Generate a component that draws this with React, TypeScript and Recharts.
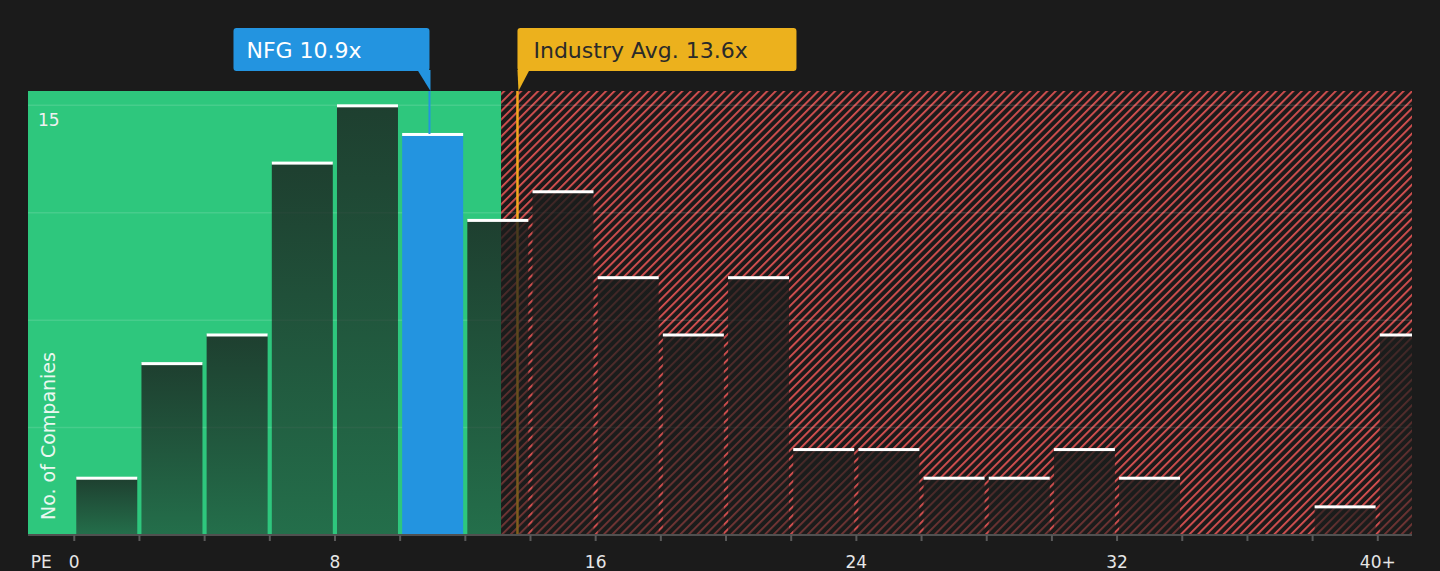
import React from 'react';
import { ComposedChart, Bar, XAxis, YAxis, ReferenceArea, ReferenceLine } from 'recharts';

// PE histogram: bin centres (2x wide bins, last one is 40+) and company counts
const binCenters = [1, 3, 5, 7, 9, 11, 13, 15, 17, 19, 21, 23, 25, 27, 29, 31, 33, 35, 37, 39, 41];
const companyCounts = [2, 6, 7, 13, 15, 14, 11, 12, 9, 7, 9, 3, 3, 2, 2, 3, 2, 0, 0, 1, 7];

const xTicks = [0, 2, 4, 6, 8, 10, 12, 14, 16, 18, 20, 22, 24, 26, 28, 30, 32, 34, 36, 38, 40];
const xTickLabels: Record<number, string> = { 0: '0', 8: '8', 16: '16', 24: '24', 32: '32', 40: '40+' };
const yGridValues = [0, 3.75, 7.5, 11.25, 15];

const nfgPE = 10.9;
const industryPE = 13.6;
const fairLimit = 13.1;
const xMin = -1.42;
const xMax = 41.05;
const yMax = 15.5;

const data = binCenters.map((pe, i) => ({ pe, count: companyCounts[i] }));

const FONT = 'DejaVu Sans';

const BarShape = (props: any) => {
  const { x, y, width, height, payload } = props;
  if (!payload.count) return null;
  const isNfg = nfgPE >= payload.pe - 1 && nfgPE < payload.pe + 1;
  return (
    <g>
      <rect x={x} y={y} width={width} height={height} fill={isNfg ? '#2394e0' : 'url(#barFade)'} />
      <rect x={x} y={y - 1} width={width} height={3} fill="#ffffff" />
    </g>
  );
};

const XTick = ({ x, payload }: any) => {
  const label = xTickLabels[payload.value];
  if (label === undefined) return null;
  return (
    <g fontFamily={FONT} fontSize={17} fill="#e6e6e6">
      {payload.value === 0 && (
        <text x={x - 33} y={568} textAnchor="middle">PE</text>
      )}
      <text x={x} y={568} textAnchor="middle">{label}</text>
    </g>
  );
};

// labels that sit on the horizontal grid lines: "15" at the top, axis title at 0
const GridLabel = (value: number) => (props: any) => {
  const { x, y } = props.viewBox;
  if (value === 15) {
    return (
      <text x={x + 10} y={y + 15} fontFamily={FONT} fontSize={17} fill="#f0f0f0" dominantBaseline="central">
        15
      </text>
    );
  }
  if (value === 0) {
    return (
      <text
        transform={`translate(${x + 20}, ${y - 15}) rotate(-90)`}
        fontFamily={FONT}
        fontSize={19}
        fill="#eaf7f0"
        dominantBaseline="central"
      >
        No. of Companies
      </text>
    );
  }
  return null;
};

const NfgCallout = ({ viewBox }: any) => {
  const { x, y } = viewBox;
  const w = 196;
  const h = 43;
  const top = y - 63;
  return (
    <g>
      <rect x={x - w} y={top} width={w} height={h} rx={3} fill="#2394e0" />
      <path d={`M${x - 12},${top + h - 1} L${x + 1},${top + h - 1} L${x + 1},${y} Z`} fill="#2394e0" />
      <text x={x - w + 13} y={top + h / 2 + 1} fontFamily={FONT} fontSize={22} fill="#ffffff" dominantBaseline="central">
        NFG 10.9x
      </text>
    </g>
  );
};

const IndustryCallout = ({ viewBox }: any) => {
  const { x, y } = viewBox;
  const w = 279;
  const h = 43;
  const top = y - 63;
  return (
    <g>
      <rect x={x} y={top} width={w} height={h} rx={3} fill="#ecb11d" />
      <path d={`M${x},${top + h - 1} L${x + 12},${top + h - 1} L${x + 1},${y} Z`} fill="#ecb11d" />
      <text x={x + 16} y={top + h / 2 + 1} fontFamily={FONT} fontSize={22} fill="#2a2a2a" dominantBaseline="central">
        Industry Avg. 13.6x
      </text>
    </g>
  );
};

const App: React.FC = () => {
  return (
    <div style={{ position: 'absolute', left: 0, top: 0, width: 1440, height: 571, background: '#1b1b1b' }}>
      <ComposedChart width={1440} height={571} data={data} margin={{ top: 91, right: 28, bottom: 0, left: 28 }}>
        <defs>
          <linearGradient id="barFade" x1="0" y1="0" x2="0" y2="1">
            <stop offset="0%" stopColor="#1a1d1c" stopOpacity={0.8} />
            <stop offset="100%" stopColor="#1a1d1c" stopOpacity={0.52} />
          </linearGradient>
          <pattern id="hatch" patternUnits="userSpaceOnUse" width={6} height={6} patternTransform="rotate(45)">
            <rect width={6} height={6} fill="#1c1a1a" />
            <rect x={0} y={0} width={1.8} height={6} fill="#dc5252" />
          </pattern>
        </defs>
        <XAxis
          dataKey="pe"
          type="number"
          domain={[xMin, xMax]}
          allowDataOverflow
          ticks={xTicks}
          interval={0}
          height={36}
          tickSize={6}
          axisLine={{ stroke: '#505050', strokeWidth: 2 }}
          tickLine={{ stroke: '#5a5a5a', strokeWidth: 2 }}
          tick={<XTick />}
        />
        <YAxis type="number" domain={[0, yMax]} width={0} axisLine={false} tickLine={false} tick={false} />
        <ReferenceArea x1={xMin} x2={fairLimit} y1={0} y2={yMax} fill="#2ec77d" fillOpacity={1} stroke="none" zIndex={100} />
        <ReferenceArea x1={fairLimit} x2={xMax} y1={0} y2={yMax} fill="url(#hatch)" fillOpacity={1} stroke="none" zIndex={100} />
        {yGridValues.map((v) => (
          <ReferenceLine
            key={v}
            y={v}
            stroke={v === 0 ? 'none' : 'rgba(255,255,255,0.12)'}
            strokeWidth={1.5}
            zIndex={150}
            label={GridLabel(v)}
          />
        ))}
        <ReferenceLine x={industryPE} stroke="#f2a81d" strokeWidth={2.5} zIndex={200} label={<IndustryCallout />} />
        <Bar dataKey="count" barSize={61} shape={<BarShape />} isAnimationActive={false} zIndex={300} />
        <ReferenceLine
          segment={[{ x: nfgPE, y: 14 }, { x: nfgPE, y: yMax }]}
          stroke="#2394e0"
          strokeWidth={2}
          zIndex={400}
          label={<NfgCallout />}
        />
      </ComposedChart>
    </div>
  );
};

export default App;
